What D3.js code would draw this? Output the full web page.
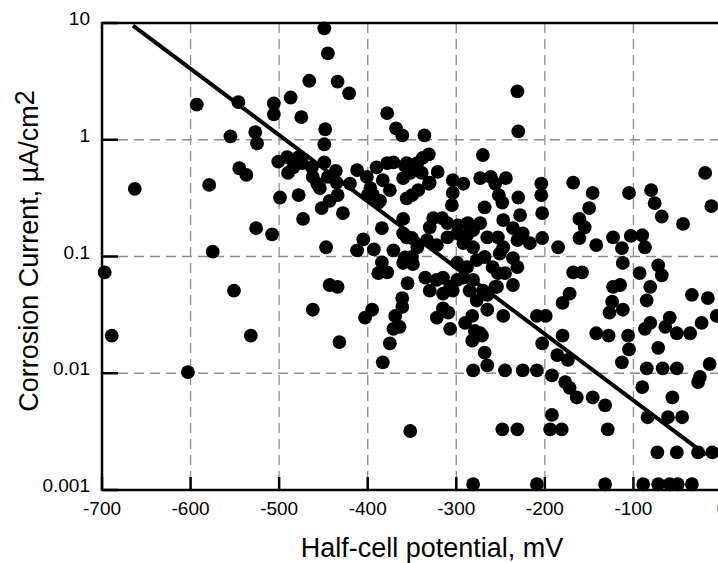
<!DOCTYPE html>
<html>
<head>
<meta charset="utf-8">
<script src="https://cdn.jsdelivr.net/npm/d3@7"></script>
<style>
  body { margin: 0; background: #fff; }
  svg { display: block; font-family: "Liberation Sans", Arial, Helvetica, sans-serif; }
  .grid line { stroke: #8c8c8c; stroke-width: 1.3; stroke-dasharray: 10,6; }
  .frame line, .tick { stroke: #000; stroke-width: 2.5; }
  .tick-label { font-size: 19px; fill: #000; }
  .title { font-size: 27px; fill: #000; }
</style>
</head>
<body>
<div id="chart"></div>
<script>
// half-cell potential (mV) and corrosion current (uA/cm2)
const potential = [
  -697, -689, -663, -603, -593, -579, -575, -551, -555, -546, -545, -537, -532,
  -527, -525, -526, -508, -506, -506, -501, -499, -491, -487, -484, -490, -478,
  -474, -478, -475, -473, -466, -463, -462, -457, -454, -452, -449, -445, -448,
  -449, -449, -447, -445, -443, -462, -443, -434, -434, -436, -435, -434, -428,
  -432, -421, -420, -412, -401, -405, -412, -393, -384, -400, -394, -388, -397,
  -390, -383, -378, -375, -386, -371, -378, -368, -361, -360, -358, -356, -360,
  -356, -371, -384, -388, -378, -360, -350, -355, -361, -395, -403, -369, -371,
  -375, -383, -352, -360, -350, -350, -344, -356, -344, -338, -336, -352, -343,
  -330, -321, -331, -339, -331, -304, -292, -304, -305, -326, -316, -330, -310,
  -298, -287, -273, -299, -310, -288, -265, -333, -322, -292, -281, -281, -358,
  -349, -335, -322, -330, -315, -307, -299, -299, -288, -277, -268, -292, -281,
  -304, -285, -315, -270, -254, -277, -265, -315, -322, -309, -282, -290, -307,
  -279, -271, -282, -364, -361, -281, -281,
  -270, -273, -261, -244, -256, -252, -230, -231, -230, -204, -204, -203, -248,
  -268, -228, -247, -236, -225, -253, -217, -203, -247, -236, -259, -245, -236,
  -256, -265, -247, -209, -199, -273, -203, -268, -186, -174, -265, -245, -225,
  -209, -231, -251, -231, -253, -185,
  -168, -146, -105, -80, -19, -76, -68, -44, -12, -150, -161, -155, -161, -142,
  -123, -113, -103, -90, -87, -112, -168, -158, -93, -72, -68, -81, -123, -115,
  -172, -180, -124, -127, -112, -85, -34, -16, -6, -23, -59, -64, -51, -36, -81,
  -87, -180, -142, -128, -106, -72, -105, -113, -85, -67, -51, -25, -192, -177,
  -172, -164, -146, -132, -192, -194, -181, -248, -231, -129, -209, -132, -89,
  -72, -59, -50, -34, -27, -90, -56, -84, -61, -45, -73, -51, -27, -11, -14
];
const current = [
  0.073, 0.021, 0.38, 0.0102, 2.0, 0.41, 0.11, 0.051, 1.07, 2.1, 0.57, 0.50, 0.021,
  1.16, 0.93, 0.175, 0.155, 2.05, 1.65, 0.65, 0.32, 0.71, 2.3, 0.58, 0.52, 0.71,
  0.63, 0.335, 1.56, 0.21, 3.2, 0.58, 0.48, 0.42, 0.385, 0.26, 9.0, 5.5, 1.23,
  0.915, 0.64, 0.12, 0.48, 0.30, 0.035, 0.057, 0.055, 3.15, 0.54, 0.43, 0.335, 0.235,
  0.0185, 2.5, 0.42, 0.55, 0.48, 0.14, 0.113, 0.115, 0.175, 0.335, 0.335, 0.29, 0.385,
  0.58, 0.45, 0.63, 0.37, 0.30, 0.64, 1.69, 1.25, 1.09, 0.47, 0.6, 0.315, 0.21,
  0.146, 0.113, 0.089, 0.072, 0.073, 0.088, 0.099, 0.059, 0.044, 0.035, 0.030, 0.031, 0.024,
  0.018, 0.0124, 0.0032, 0.158, 0.144, 0.335, 0.12, 0.63, 0.63, 0.7, 1.09, 0.52, 0.37,
  0.43, 0.53, 0.75, 0.52, 0.42, 0.45, 0.42, 0.35, 0.275, 0.213, 0.213, 0.178, 0.193,
  0.185, 0.193, 0.193, 0.158, 0.146, 0.152, 0.146, 0.138, 0.125, 0.13, 0.12, 0.168, 0.098,
  0.086, 0.066, 0.063, 0.051, 0.066, 0.055, 0.063, 0.088, 0.081, 0.093, 0.099, 0.066, 0.063,
  0.051, 0.051, 0.048, 0.051, 0.055, 0.042, 0.035, 0.036, 0.030, 0.033, 0.031, 0.027, 0.024,
  0.023, 0.021, 0.019, 0.025, 0.037, 0.0106, 0.00112,
  0.74, 0.47, 0.48, 0.47, 0.42, 0.335, 0.32, 2.6, 1.18, 0.42, 0.335, 0.235, 0.29,
  0.264, 0.226, 0.205, 0.175, 0.158, 0.146, 0.13, 0.144, 0.12, 0.097, 0.081, 0.072, 0.057,
  0.055, 0.047, 0.031, 0.031, 0.031, 0.022, 0.018, 0.015, 0.0143, 0.013, 0.0117, 0.0106, 0.0106,
  0.0106, 0.138, 0.106, 0.081, 0.072, 0.12,
  0.43, 0.35, 0.35, 0.37, 0.52, 0.286, 0.22, 0.19, 0.27, 0.26, 0.21, 0.178, 0.144, 0.125,
  0.146, 0.118, 0.15, 0.152, 0.12, 0.088, 0.073, 0.073, 0.072, 0.084, 0.069, 0.055, 0.055, 0.057,
  0.048, 0.040, 0.041, 0.033, 0.035, 0.042, 0.047, 0.044, 0.031, 0.027, 0.030, 0.025, 0.022, 0.022, 0.027,
  0.024, 0.021, 0.022, 0.021, 0.021, 0.0165, 0.016, 0.0124, 0.011, 0.011, 0.011, 0.0093, 0.0096, 0.0084,
  0.0075, 0.0062, 0.0062, 0.0053, 0.0044, 0.0033, 0.0033, 0.0033, 0.0033, 0.0033, 0.00112, 0.00112, 0.00112,
  0.00112, 0.00112, 0.00112, 0.00112, 0.0084, 0.0076, 0.0062, 0.0042, 0.0042, 0.0042, 0.0021, 0.0021, 0.0021, 0.0021, 0.012
];

// fitted trend line end points
const fitPotential = [-665, -18];
const fitCurrent = [9.5, 0.002];

const xTicks = [-700, -600, -500, -400, -300, -200, -100, 0];
const yTicks = [0.001, 0.01, 0.1, 1, 10];
const yTickLabels = ['0.001', '0.01', '0.1', '1', '10'];

const width = 718;
const height = 563;
const margin = { top: 23, left: 102, bottom: 73 };
const plotW = 620; // the right edge runs past the picture, as in the original
const plotH = height - margin.top - margin.bottom;

const svg = d3.select('#chart')
    .append('svg')
    .attr('width', width)
    .attr('height', height);

const x = d3.scaleLinear()
    .domain([-700, 0])
    .range([margin.left, margin.left + plotW]);

const y = d3.scaleLog()
    .domain([0.001, 10])
    .range([margin.top + plotH, margin.top]);

const yTop = y(10), yBottom = y(0.001), xLeft = x(-700), xRight = x(0);

// dashed grid
const grid = svg.append('g').attr('class', 'grid');
grid.selectAll('.gx')
    .data(xTicks.slice(1, -1))
    .join('line')
    .attr('class', 'gx')
    .attr('x1', d => x(d)).attr('x2', d => x(d))
    .attr('y1', yTop).attr('y2', yBottom);
grid.selectAll('.gy')
    .data(yTicks.slice(1, -1))
    .join('line')
    .attr('class', 'gy')
    .attr('x1', xLeft).attr('x2', xRight)
    .attr('y1', d => y(d)).attr('y2', d => y(d));

// points
const points = potential.map((p, i) => ({ p: p, c: current[i] }));
svg.append('g')
    .selectAll('circle')
    .data(points)
    .join('circle')
    .attr('cx', d => x(d.p))
    .attr('cy', d => y(d.c))
    .attr('r', 6.9)
    .attr('fill', '#000');

// trend line
const line = d3.line()
    .x(d => x(d[0]))
    .y(d => y(d[1]));
svg.append('path')
    .datum(fitPotential.map((p, i) => [p, fitCurrent[i]]))
    .attr('d', line)
    .attr('fill', 'none')
    .attr('stroke', '#000')
    .attr('stroke-width', 4);

// frame
const frame = svg.append('g').attr('class', 'frame');
frame.append('line').attr('x1', xLeft).attr('x2', xLeft).attr('y1', yTop - 1).attr('y2', yBottom + 1);
frame.append('line').attr('x1', xLeft).attr('x2', xRight).attr('y1', yTop).attr('y2', yTop);
frame.append('line').attr('x1', xLeft).attr('x2', xRight).attr('y1', yBottom).attr('y2', yBottom);
frame.append('line').attr('x1', xRight).attr('x2', xRight).attr('y1', yTop).attr('y2', yBottom);

// inward ticks
svg.append('g')
    .selectAll('line')
    .data(xTicks)
    .join('line')
    .attr('class', 'tick')
    .attr('x1', d => x(d)).attr('x2', d => x(d))
    .attr('y1', yBottom).attr('y2', yBottom - 13);
svg.append('g')
    .selectAll('line')
    .data(yTicks)
    .join('line')
    .attr('class', 'tick')
    .attr('x1', xLeft).attr('x2', xLeft + 16)
    .attr('y1', d => y(d)).attr('y2', d => y(d));

// tick labels
svg.append('g')
    .selectAll('text')
    .data(xTicks)
    .join('text')
    .attr('class', 'tick-label')
    .attr('x', d => x(d))
    .attr('y', yBottom + 25)
    .attr('text-anchor', 'middle')
    .text(d => d);
svg.append('g')
    .selectAll('text')
    .data(yTicks)
    .join('text')
    .attr('class', 'tick-label')
    .attr('x', xLeft - 12)
    .attr('y', d => y(d) + 2)
    .attr('text-anchor', 'end')
    .text((d, i) => yTickLabels[i]);

// axis titles
svg.append('text')
    .attr('class', 'title')
    .attr('x', 432)
    .attr('y', 557)
    .attr('text-anchor', 'middle')
    .text('Half-cell potential, mV');

const yTitle = svg.append('text')
    .attr('class', 'title')
    .attr('transform', 'translate(38,251) rotate(-90)')
    .attr('text-anchor', 'middle');
yTitle.append('tspan').text('Corrosion Current, \u00b5A/cm');
yTitle.append('tspan').attr('dy', -4).text('2');
</script>
</body>
</html>
